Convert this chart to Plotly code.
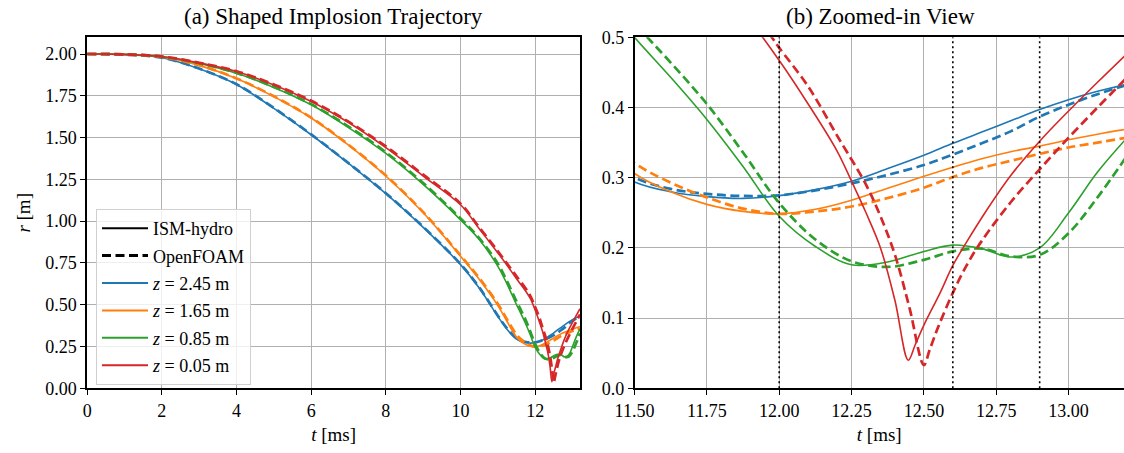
import plotly.graph_objects as go

# ---------------- data ----------------
t_common = [0, 1, 2, 3, 4, 5, 6, 7, 8, 9, 10, 10.5, 11, 11.25, 11.5, 11.625, 11.75,
            11.875, 12.0, 12.125, 12.25, 12.375, 12.5, 12.6, 12.7, 12.8, 12.9, 13.0, 13.1, 13.2]

blue_ism = [2.0, 1.996, 1.978, 1.912, 1.818, 1.675, 1.517, 1.345, 1.165, 0.963, 0.74, 0.6, 0.43, 0.352,
            0.294, 0.280, 0.273, 0.2705, 0.2745, 0.283, 0.295, 0.313, 0.332, 0.349, 0.365, 0.381, 0.397,
            0.411, 0.423, 0.433]
blue_of = [2.0, 1.996, 1.978, 1.913, 1.819, 1.677, 1.519, 1.347, 1.167, 0.966, 0.743, 0.604, 0.434, 0.357,
           0.300, 0.284, 0.277, 0.274, 0.275, 0.282, 0.292, 0.304, 0.318, 0.333, 0.349, 0.366, 0.387,
           0.404, 0.419, 0.432]

orange_ism = [2.0, 1.997, 1.982, 1.932, 1.853, 1.745, 1.617, 1.455, 1.27, 1.05, 0.79, 0.652, 0.495, 0.398,
              0.306, 0.280, 0.262, 0.252, 0.2485, 0.255, 0.268, 0.285, 0.302, 0.315, 0.327, 0.337, 0.345,
              0.354, 0.362, 0.369]
orange_of = [2.0, 1.997, 1.982, 1.933, 1.854, 1.747, 1.619, 1.457, 1.273, 1.054, 0.795, 0.66, 0.505, 0.41,
             0.321, 0.293, 0.272, 0.256, 0.2485, 0.252, 0.259, 0.271, 0.2857, 0.301, 0.314, 0.324, 0.334,
             0.343, 0.350, 0.357]

green_ism = [2.0, 1.998, 1.984, 1.944, 1.885, 1.80, 1.696, 1.56, 1.405, 1.22, 1.008, 0.89, 0.73, 0.622,
             0.5, 0.443, 0.383, 0.316, 0.245, 0.202, 0.176, 0.18, 0.195, 0.204, 0.199, 0.187, 0.2,
             0.25, 0.308, 0.356]
green_of = [2.0, 1.998, 1.984, 1.945, 1.887, 1.803, 1.70, 1.566, 1.412, 1.228, 1.016, 0.898, 0.745, 0.638,
            0.52, 0.464, 0.405, 0.336, 0.264, 0.212, 0.181, 0.173, 0.183, 0.195, 0.199, 0.188, 0.19,
            0.221, 0.272, 0.33]

t_red_ism = [0, 1, 2, 3, 4, 5, 6, 7, 8, 9, 10, 10.5, 11, 11.25, 11.5, 11.75, 11.875, 12.0, 12.1, 12.2,
             12.25, 12.3, 12.35, 12.4, 12.446, 12.47, 12.5, 12.556, 12.6, 12.65, 12.7, 12.8, 12.9, 13.0,
             13.1, 13.2]
red_ism = [2.0, 1.998, 1.985, 1.947, 1.895, 1.815, 1.716, 1.59, 1.44, 1.27, 1.098, 0.955, 0.81, 0.735,
           0.655, 0.58, 0.535, 0.467, 0.405, 0.338, 0.295, 0.25, 0.2, 0.125, 0.04, 0.062, 0.09, 0.136,
           0.175, 0.21, 0.243, 0.303, 0.352, 0.395, 0.436, 0.476]

t_red_of = [0, 1, 2, 3, 4, 5, 6, 7, 8, 9, 10, 10.5, 11, 11.25, 11.5, 11.75, 11.875, 11.974, 12.0, 12.1,
            12.2, 12.3, 12.35, 12.4, 12.45, 12.5, 12.52, 12.55, 12.6, 12.65, 12.7, 12.8, 12.9, 13.0, 13.1,
            13.2]
red_of = [2.0, 1.998, 1.985, 1.948, 1.897, 1.818, 1.72, 1.595, 1.447, 1.278, 1.105, 0.963, 0.82, 0.745,
          0.67, 0.595, 0.55, 0.5, 0.485, 0.43, 0.36, 0.29, 0.245, 0.19, 0.115, 0.033, 0.055, 0.088, 0.136,
          0.177, 0.21, 0.265, 0.312, 0.357, 0.40, 0.442]

z_labels = ["2.45", "1.65", "0.85", "0.05"]
colors = ["#1f77b4", "#ff7f0e", "#2ca02c", "#d62728"]
vline_times = [12.0, 12.6, 12.9]

series = [
    (t_common, blue_ism, t_common, blue_of),
    (t_common, orange_ism, t_common, orange_of),
    (t_common, green_ism, t_common, green_of),
    (t_red_ism, red_ism, t_red_of, red_of),
]

FONT = "Liberation Serif, Times New Roman, serif"
SOLID_W = 1.6
DASH_W = 2.7
DASH = "9px,4.5px"
SMOOTH = 1.0

fig = go.Figure()

for (ts, rs, td, rd), col in zip(series, colors):
    for xa, ya in (("x", "y"), ("x2", "y2")):
        fig.add_trace(go.Scatter(x=ts, y=rs, mode="lines", xaxis=xa, yaxis=ya,
                                 line=dict(color=col, width=SOLID_W, shape="spline", smoothing=SMOOTH),
                                 showlegend=False, hoverinfo="skip"))
        fig.add_trace(go.Scatter(x=td, y=rd, mode="lines", xaxis=xa, yaxis=ya,
                                 line=dict(color=col, width=DASH_W, dash=DASH, shape="spline",
                                           smoothing=SMOOTH),
                                 showlegend=False, hoverinfo="skip"))

# legend entries
fig.add_trace(go.Scatter(x=[None], y=[None], mode="lines", name="ISM-hydro", legendgroup="a",
                         line=dict(color="black", width=2)))
fig.add_trace(go.Scatter(x=[None], y=[None], mode="lines", name="OpenFOAM", legendgroup="b",
                         line=dict(color="black", width=3, dash=DASH)))
for i, (zl, col) in enumerate(zip(z_labels, colors)):
    fig.add_trace(go.Scatter(x=[None], y=[None], mode="lines", name=f"<i>z</i> = {zl} m",
                             legendgroup=f"z{i}", line=dict(color=col, width=2)))

for tv in vline_times:
    fig.add_shape(type="line", xref="x2", yref="y2", x0=tv, x1=tv, y0=0, y1=0.5,
                  line=dict(color="black", width=1.6, dash="2px,3px"))

W, H = 1124, 453
top_px, bot_px = 37.3, 388.3
ydom = [1 - bot_px / H, 1 - top_px / H]

axis_common = dict(showgrid=True, gridcolor="#b0b0b0", gridwidth=1.2, zeroline=False,
                   showline=True, linecolor="black", linewidth=1.5, automargin=False,
                   ticks="outside", ticklen=5, tickwidth=1.3, tickcolor="black",
                   tickfont=dict(family=FONT, size=18, color="black"))
title_font = dict(family=FONT, size=19, color="black")

fig.update_layout(
    width=W, height=H, autosize=False,
    margin=dict(l=0, r=0, t=0, b=0, autoexpand=False),
    paper_bgcolor="white", plot_bgcolor="white",
    font=dict(family=FONT, color="black"),
    xaxis=dict(domain=[87.2 / W, 580 / W], range=[0, 13.2], tickvals=[0, 2, 4, 6, 8, 10, 12],
               mirror=True, anchor="y",
               title=dict(text="<i>t</i> [ms]", font=title_font, standoff=8),
               **axis_common),
    yaxis=dict(domain=ydom, range=[0, 2.1], tickvals=[0, 0.25, 0.5, 0.75, 1.0, 1.25, 1.5, 1.75, 2.0],
               tickformat=".2f", mirror=True, anchor="x",
               title=dict(text="<i>r</i> [m]", font=title_font, standoff=10),
               **axis_common),
    xaxis2=dict(domain=[634.5 / W, 1.0], range=[11.5, 11.5 + (W - 634.5) / 289.4],
                tickvals=[11.5, 11.75, 12.0, 12.25, 12.5, 12.75, 13.0], tickformat=".2f",
                mirror=True, anchor="y2",
                title=dict(text="<i>t</i> [ms]", font=title_font, standoff=8),
                **axis_common),
    yaxis2=dict(domain=ydom, range=[0, 0.5], tickvals=[0, 0.1, 0.2, 0.3, 0.4, 0.5], tickformat=".1f",
                mirror=False, anchor="x2", **axis_common),
    legend=dict(x=96 / W, y=1 - 209 / H, xanchor="left", yanchor="top",
                bgcolor="rgba(255,255,255,0.8)", bordercolor="#d0d0d0", borderwidth=1,
                font=dict(family=FONT, size=18, color="black"), tracegroupgap=1,
                itemwidth=46),
    annotations=[
        dict(text="(a) Shaped Implosion Trajectory", x=(87.2 + 580) / 2 / W, y=1 - 17 / H,
             xref="paper", yref="paper", showarrow=False, xanchor="center", yanchor="middle",
             font=dict(family=FONT, size=23, color="black")),
        dict(text="(b) Zoomed-in View", x=(634.5 + 1127) / 2 / W, y=1 - 17 / H,
             xref="paper", yref="paper", showarrow=False, xanchor="center", yanchor="middle",
             font=dict(family=FONT, size=23, color="black")),
    ],
)

fig.write_html("out.html")
